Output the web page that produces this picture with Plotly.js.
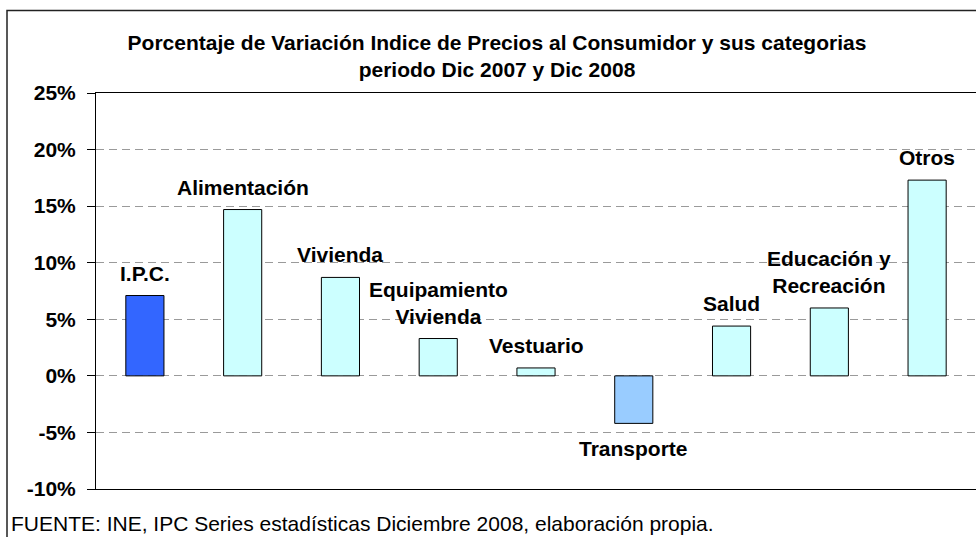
<!DOCTYPE html>
<html>
<head>
<meta charset="utf-8">
<script src="https://cdn.plot.ly/plotly-3.0.1.min.js"></script>
<style>
  html, body { margin: 0; padding: 0; background: #ffffff; }
  #chart { width: 976px; height: 537px; }
</style>
</head>
<body>
<div id="chart"></div>
<script>
// ---- Data ----
const categories = ["IPC", "Alimentación", "Vivienda", "Equipamiento Vivienda", "Vestuario", "Transporte", "Salud", "Educación y Recreación", "Otros"];
const labels = ["I.P.C.", "Alimentación", "Vivienda", "Equipamiento<br>Vivienda", "Vestuario", "Transporte", "Salud", "Educación y<br>Recreación", "Otros"];
const values = [7.1, 14.7, 8.7, 3.3, 0.7, -4.2, 4.4, 6.0, 17.3];
const barColors = ["#3366FF", "#CCFFFF", "#CCFFFF", "#CCFFFF", "#CCFFFF", "#99CCFF", "#CCFFFF", "#CCFFFF", "#CCFFFF"];
const yTicks = [-10, -5, 0, 5, 10, 15, 20, 25];
const titleText = "Porcentaje de Variación Indice de Precios al Consumidor y sus categorias<br>periodo Dic 2007 y Dic 2008";
const sourceText = "FUENTE: INE, IPC Series estadísticas Diciembre 2008, elaboración propia.";

const FONT = "Liberation Sans, Arial, sans-serif";
const FS = 21;

const trace = {
  type: "bar",
  x: categories,
  y: values,
  width: 0.39,
  marker: { color: barColors, line: { color: "#000000", width: 1 } },
  hoverinfo: "x+y"
};

const labelAnnotations = categories.map((c, i) => ({
  x: c,
  y: values[i],
  xref: "x",
  yref: "y",
  text: "<b>" + labels[i] + "</b>",
  showarrow: false,
  xanchor: "center",
  yanchor: values[i] >= 0 ? "bottom" : "top",
  yshift: values[i] >= 0 ? 9 : -12,
  font: { family: FONT, size: FS, color: "#000000" }
}));

const layout = {
  width: 976,
  height: 537,
  paper_bgcolor: "#ffffff",
  plot_bgcolor: "#ffffff",
  margin: { l: 96, r: 0, t: 93, b: 48 },
  showlegend: false,
  title: {
    text: "<b>" + titleText + "</b>",
    font: { family: FONT, size: FS, color: "#000000" },
    x: 497 / 976,
    xref: "container",
    xanchor: "center",
    y: 1 - 50 / 537,
    yref: "container",
    yanchor: "top"
  },
  xaxis: {
    type: "category",
    categoryorder: "array",
    categoryarray: categories,
    range: [-0.5, categories.length - 0.5],
    showticklabels: false,
    ticks: "",
    showgrid: false,
    zeroline: false,
    showline: true,
    mirror: true,
    linecolor: "#000000",
    linewidth: 1,
    fixedrange: true
  },
  yaxis: {
    range: [-10, 25],
    tickvals: yTicks,
    ticktext: yTicks.map(v => "<b>" + v + "%</b>"),
    ticks: "outside",
    ticklen: 8,
    tickwidth: 1,
    tickcolor: "#000000",
    ticklabelstandoff: 7,
    tickfont: { family: FONT, size: FS, color: "#000000" },
    showgrid: true,
    gridcolor: "#9a9a9a",
    gridwidth: 1,
    griddash: "8px,5px",
    zeroline: false,
    showline: true,
    linecolor: "#000000",
    linewidth: 1,
    fixedrange: true
  },
  annotations: labelAnnotations.concat([{
    xref: "paper",
    yref: "paper",
    x: (9 - 96) / 880,
    y: (489 - 537) / 396,
    xanchor: "left",
    yanchor: "bottom",
    text: sourceText,
    showarrow: false,
    font: { family: FONT, size: FS, color: "#000000" }
  }]),
  shapes: [{
    type: "rect",
    xref: "paper",
    yref: "paper",
    x0: (7 - 96) / 880,
    x1: 1.05,
    y0: -0.3,
    y1: (489 - 10.5) / 396,
    line: { color: "#222222", width: 1.5 },
    fillcolor: "rgba(0,0,0,0)",
    layer: "below"
  }]
};

Plotly.newPlot("chart", [trace], layout, { staticPlot: true, displayModeBar: false });
</script>
</body>
</html>
